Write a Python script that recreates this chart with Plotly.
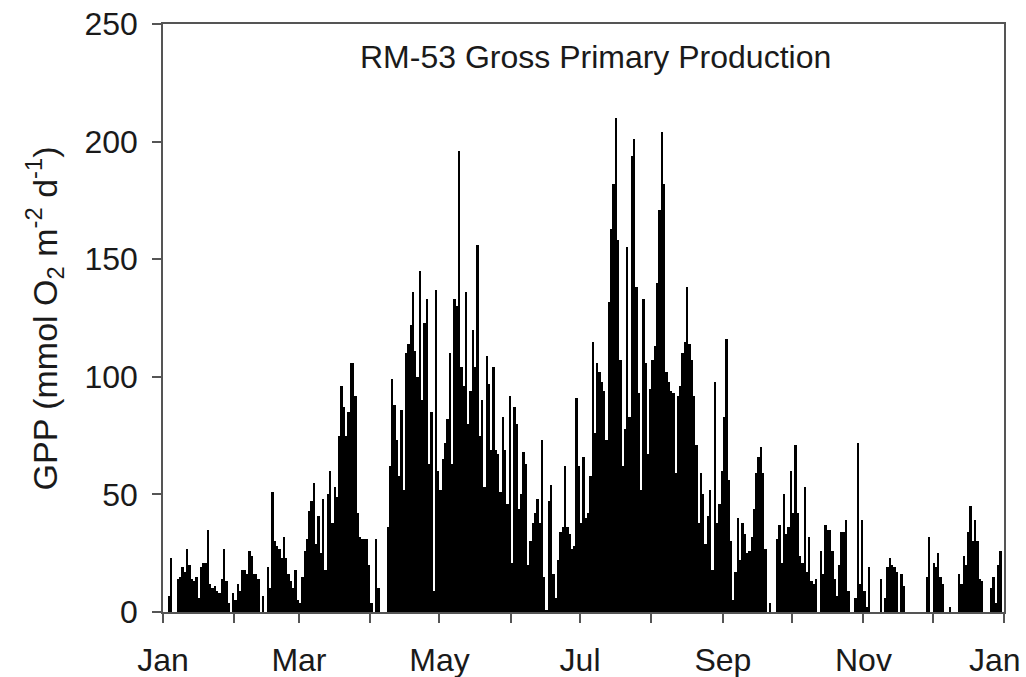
import pandas as pd
import plotly.graph_objects as go

# Daily gross primary production at RM-53 (mmol O2 m-2 d-1), one list per month
gpp_jan = [0, 0, 7, 23, 0, 0, 14, 15, 19, 17,
           27, 20, 14, 13, 15, 6, 19, 21, 21, 35,
           12, 10, 11, 9, 8, 14, 27, 13, 4, 0,
           8]
gpp_feb = [5, 12, 9, 18, 18, 16, 26, 24, 16, 16,
           14, 0, 7, 0, 19, 10, 51, 30, 28, 27,
           23, 32, 23, 16, 13, 10, 18, 5]
gpp_mar = [4, 15, 26, 31, 43, 47, 55, 29, 41, 25,
           48, 18, 50, 60, 38, 53, 49, 75, 96, 87,
           75, 85, 106, 106, 92, 42, 32, 31, 31, 31,
           20]
gpp_apr = [4, 0, 31, 10, 0, 0, 0, 36, 62, 99,
           88, 73, 58, 86, 52, 110, 114, 122, 136, 111,
           100, 145, 90, 123, 133, 63, 85, 9, 137, 60]
gpp_may = [52, 65, 72, 82, 110, 63, 133, 130, 196, 104,
           96, 136, 80, 94, 120, 104, 156, 75, 90, 53,
           109, 97, 69, 104, 69, 67, 51, 83, 69, 46,
           92]
gpp_jun = [21, 87, 80, 44, 50, 68, 63, 20, 30, 38,
           42, 48, 38, 73, 15, 1, 47, 54, 16, 6,
           22, 34, 36, 62, 36, 33, 27, 28, 91, 62]
gpp_jul = [38, 66, 40, 42, 58, 115, 76, 106, 102, 98,
           94, 73, 132, 163, 182, 210, 158, 107, 62, 78,
           155, 83, 194, 201, 138, 93, 52, 133, 106, 67,
           95]
gpp_aug = [107, 113, 140, 171, 204, 182, 102, 98, 94, 93,
           59, 92, 96, 110, 115, 138, 114, 107, 92, 71,
           38, 59, 50, 29, 41, 52, 18, 98, 38, 46,
           60]
gpp_sep = [83, 116, 56, 30, 5, 17, 40, 22, 38, 33,
           25, 26, 32, 44, 59, 66, 70, 59, 27, 0,
           4, 0, 0, 31, 37, 21, 50, 33, 36, 60]
gpp_oct = [42, 71, 42, 24, 21, 53, 17, 32, 13, 12,
           14, 0, 26, 16, 37, 35, 35, 26, 14, 7,
           20, 34, 34, 39, 9, 0, 0, 6, 72, 12,
           39]
gpp_nov = [9, 2, 19, 0, 0, 0, 0, 14, 0, 6,
           19, 23, 20, 19, 17, 0, 16, 11, 0, 0,
           0, 0, 0, 0, 0, 0, 0, 15, 32, 0]
gpp_dec = [21, 19, 25, 15, 12, 0, 0, 2, 0, 0,
           0, 16, 12, 24, 20, 34, 45, 30, 39, 30,
           14, 13, 0, 0, 0, 10, 15, 4, 20, 26,
           0]

gpp = (gpp_jan + gpp_feb + gpp_mar + gpp_apr + gpp_may + gpp_jun +
       gpp_jul + gpp_aug + gpp_sep + gpp_oct + gpp_nov + gpp_dec)

# one bar per day, centred on midday
days = pd.date_range("2013-01-01 12:00", periods=len(gpp), freq="D")

# labelled month ticks (every second month) and the closing January
tick_dates = ["2013-01-01", "2013-03-01", "2013-05-01",
              "2013-07-01", "2013-09-01", "2013-11-01"]
tick_labels = ["Jan", "Mar", "May", "Jul", "Sep", "Nov"]
end_date = "2014-01-01"
end_label = "Jan"

y_ticks = [0, 50, 100, 150, 200, 250]

title_text = "RM-53 Gross Primary Production"
y_title = "GPP (mmol O<sub>2</sub> m<sup>-2</sup> d<sup>-1</sup>)"

FONT = "Liberation Sans, Arial, sans-serif"
TEXT_COLOR = "#1a1a1a"
AXIS_COLOR = "#555555"

fig = go.Figure(
    go.Bar(
        x=days,
        y=gpp,
        marker=dict(color="black", line=dict(width=0)),
        hovertemplate="%{x|%d %b}: %{y}<extra></extra>",
    )
)

fig.update_layout(
    width=1026,
    height=677,
    margin=dict(l=163, r=22, t=24, b=65),
    paper_bgcolor="white",
    plot_bgcolor="white",
    bargap=0,
    showlegend=False,
    font=dict(family=FONT, size=32, color=TEXT_COLOR),
    annotations=[
        dict(
            text=title_text,
            xref="paper", yref="paper",
            x=0.514, y=0.944,
            xanchor="center", yanchor="middle",
            showarrow=False,
            font=dict(family=FONT, size=32, color=TEXT_COLOR),
        ),
        # y-axis title, rotated, left of the tick labels
        dict(
            text=y_title,
            xref="paper", yref="paper",
            x=-0.141, y=0.5,
            xanchor="center", yanchor="middle",
            textangle=-90,
            showarrow=False,
            font=dict(family=FONT, size=34, color=TEXT_COLOR),
        ),
        # closing January label, nudged left so it stays on the page
        dict(
            text=end_label,
            xref="x", yref="paper",
            x=end_date, y=-0.0816,
            xanchor="center", yanchor="middle",
            xshift=-9,
            showarrow=False,
            font=dict(family=FONT, size=32, color=TEXT_COLOR),
        ),
    ],
)

fig.update_xaxes(
    type="date",
    range=["2013-01-01", end_date],
    tickmode="array",
    tickvals=tick_dates,
    ticktext=tick_labels,
    ticks="outside",
    ticklen=9,
    tickwidth=1.5,
    tickcolor=AXIS_COLOR,
    minor=dict(dtick="M1", ticks="outside", ticklen=9, tickwidth=1.5,
               tickcolor=AXIS_COLOR, showgrid=False),
    showline=True,
    linecolor=AXIS_COLOR,
    linewidth=1.5,
    mirror=True,
    showgrid=False,
    zeroline=False,
    automargin=False,
    ticklabelstandoff=10,
    tickfont=dict(family=FONT, size=32, color=TEXT_COLOR),
)

fig.update_yaxes(
    range=[0, 250],
    tickvals=y_ticks,
    ticks="outside",
    ticklen=9,
    tickwidth=1.5,
    tickcolor=AXIS_COLOR,
    showline=True,
    linecolor=AXIS_COLOR,
    linewidth=1.5,
    mirror=True,
    showgrid=False,
    zeroline=False,
    automargin=False,
    ticklabeloverflow="allow",
    ticklabelstandoff=8,
    tickfont=dict(family=FONT, size=32, color=TEXT_COLOR),
)

fig.write_html("out.html")
